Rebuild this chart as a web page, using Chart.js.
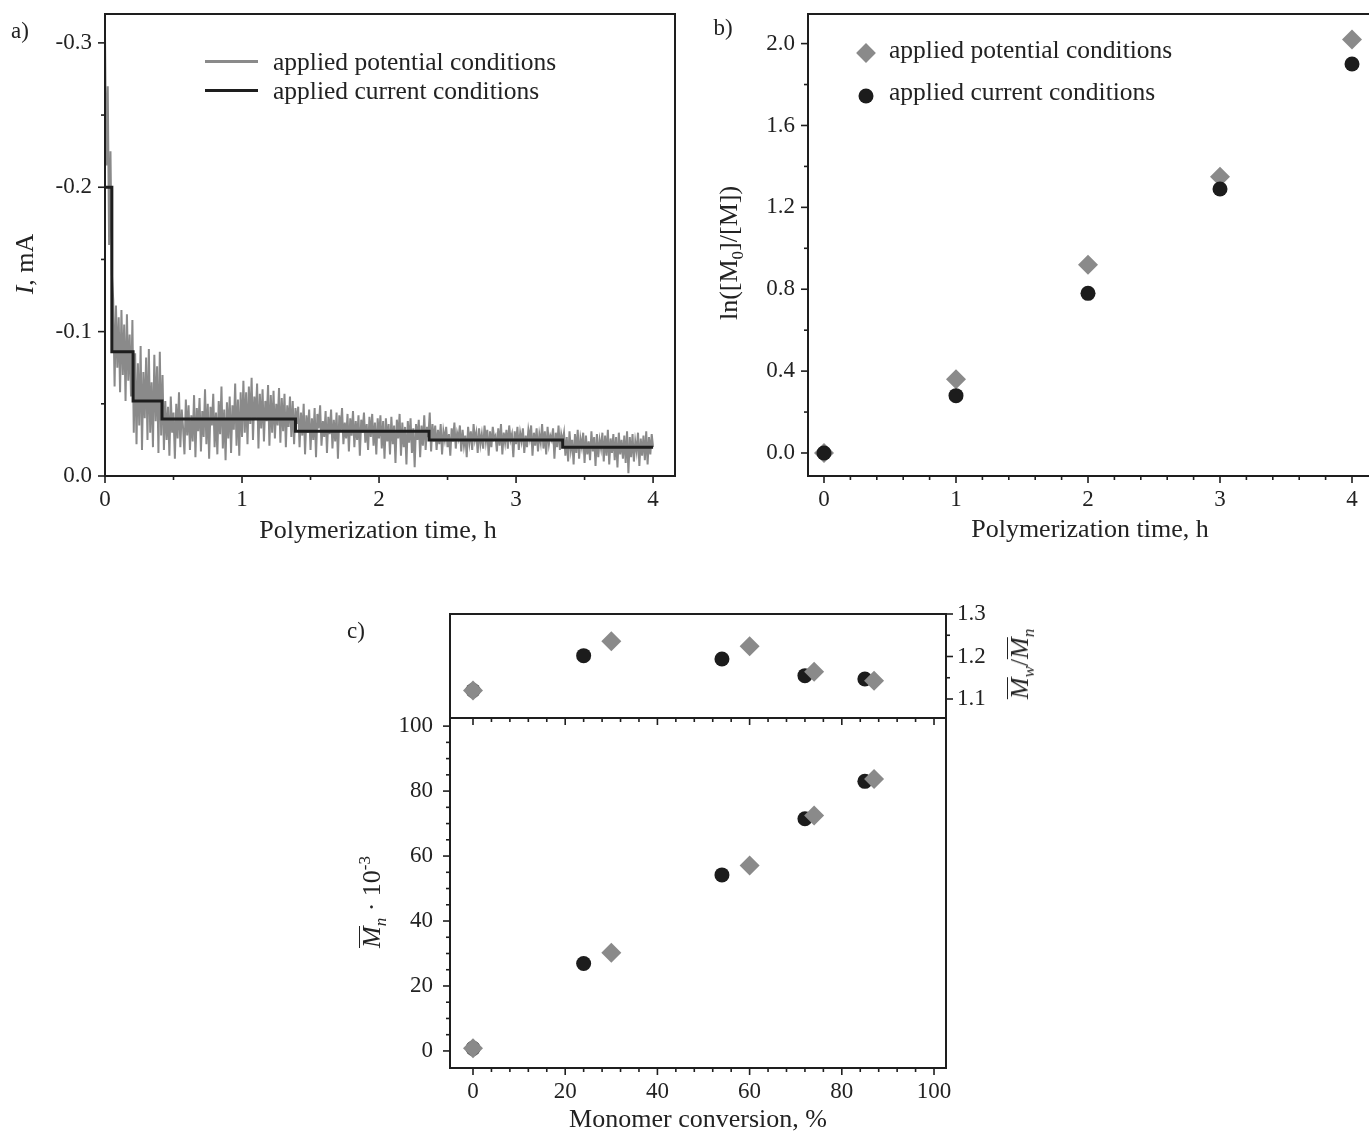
<!DOCTYPE html>
<html>
<head>
<meta charset="utf-8">
<script src="https://cdn.jsdelivr.net/npm/chart.js@4.4.1/dist/chart.umd.min.js"></script>
<style>
  html, body { margin: 0; padding: 0; background: #fff; overflow: hidden; }
  #wrap { position: relative; width: 1369px; height: 1133px; overflow: hidden;
          font-family: "Liberation Serif", serif; color: #222; }
  canvas { position: absolute; }
  .txt { position: absolute; white-space: nowrap; line-height: 1; transform: translateY(-50%); font-size: 25.5px; }
  .xtitle { position: absolute; white-space: nowrap; line-height: 1; font-size: 26px; transform: translate(-50%, -50%); }
  .panel { position: absolute; font-size: 23px; line-height: 1; transform: translate(-50%, -50%); }
  .ytitle { position: absolute; white-space: nowrap; line-height: 1; font-size: 26px;
            transform: translate(-50%, -50%) rotate(-90deg); }
  .ytitle sub, .ytitle sup { font-size: 17px; line-height: 0; }
  .ov { display: inline-block; border-top: 1.6px solid #222; line-height: 0.95; }
  .lineKey { position: absolute; height: 3px; }
  .diamond { position: absolute; width: 14px; height: 14px; background: #8a8a8a; transform: translate(-50%, -50%) rotate(45deg); }
  .dot { position: absolute; width: 15px; height: 15px; border-radius: 50%; background: #1c1c1c; transform: translate(-50%, -50%); }
</style>
</head>
<body>
<div id="wrap">
  <canvas id="chartA" width="700" height="560" style="left:0;top:0"></canvas>
  <canvas id="chartB" width="690" height="560" style="left:700px;top:0"></canvas>
  <canvas id="chartC2" width="720" height="440" style="left:340px;top:700px"></canvas>
  <canvas id="chartC1" width="720" height="132" style="left:340px;top:590px"></canvas>

  <div class="panel" style="left:20px;top:30px">a)</div>
  <div class="panel" style="left:723px;top:27px">b)</div>
  <div class="panel" style="left:356px;top:630px">c)</div>

  <!-- axis titles with italics / sub- and superscripts -->
  <div class="xtitle" style="left:378px;top:530px">Polymerization time, h</div>
  <div class="ytitle" style="left:25px;top:264px"><i>I</i>, mA</div>
  <div class="ytitle" style="left:729px;top:253px">ln([M<sub>0</sub>]/[M])</div>
  <div class="ytitle" style="left:372px;top:902px"><span class="ov"><i>M</i></span><sub><i>n</i></sub> &middot; 10<sup>-3</sup></div>
  <div class="ytitle" style="left:1020px;top:664px"><span class="ov"><i>M</i></span><sub><i>w</i></sub>/<span class="ov"><i>M</i></span><sub><i>n</i></sub></div>

  <!-- legend a -->
  <div class="lineKey" style="left:205px;top:60px;width:53px;background:#8a8a8a"></div>
  <div class="lineKey" style="left:205px;top:89px;width:53px;background:#1e1e1e"></div>
  <div class="txt" style="left:273px;top:62px">applied potential conditions</div>
  <div class="txt" style="left:273px;top:91px">applied current conditions</div>

  <!-- legend b -->
  <div class="diamond" style="left:866px;top:53px"></div>
  <div class="dot" style="left:866px;top:96px"></div>
  <div class="txt" style="left:889px;top:50px">applied potential conditions</div>
  <div class="txt" style="left:889px;top:92px">applied current conditions</div>
</div>

<script>
// ---- a) current vs time ----
// applied current conditions: level (mA) held from each time (h)
const currentStepTime  = [0, 0.05, 0.205, 0.416, 1.39, 2.365, 3.34, 4.0];
const currentStepLevel = [-0.2, -0.086, -0.052, -0.0395, -0.031, -0.025, -0.020, -0.020];

// applied potential conditions: recorded current in uA, one reading every 0.01 h
const potentialSampleStep = 0.01;
const potentialCurrentUA = [
  -305,-215,-270,-160,-225,-140,
  -122,-62,-118,-75,-110,-58,-115,-70,-105,-52,-112,-66,-98,-55,-108,
  -30,-85,-22,-78,-35,-90,-18,-72,-40,-82,-25,-88,-30,-65,-20,-84,-38,-76,-16,-86,-28,-70,
  -18,-52,-25,-48,-14,-55,-30,-44,-12,-50,-26,-58,-20,-46,-33,-15,-53,-28,-49,-18,
  -42,-24,-56,-13,-47,-31,-54,-17,-45,-27,-60,-22,-50,-12,-48,-35,-57,-20,-44,-15,
  -52,-29,-62,-19,-46,-11,-51,-26,-55,-16,-49,-32,-64,-21,-53,-14,-58,-27,
  -66,-30,-58,-22,-62,-36,-68,-25,-55,-40,-64,-19,-57,-33,-60,-24,-52,-38,-63,-21,
  -56,-30,-59,-26,-50,-35,-61,-23,-54,-31,-57,-20,-49,-34,-55,-27,-52,-22,-47,-36,
  -48,-20,-44,-28,-50,-15,-42,-30,-46,-18,-40,-25,-47,-13,-43,-33,-49,-21,-38,-27,
  -45,-16,-41,-29,-46,-19,-39,-24,-44,-12,-42,-31,-47,-22,-37,-26,-43,-17,-40,-28,
  -45,-20,-38,-25,-42,-14,-39,-30,-44,-23,-36,-18,-41,-27,-43,-21,-37,-15,-40,-26,
  -42,-19,-38,-12,-40,-24,-36,-15,-41,-22,-35,-9,-39,-26,-43,-14,-37,-20,-34,-8,
  -38,-23,-40,-16,-33,-6,-36,-25,-39,-13,-35,-21,-42,-18,-34,-27,-44,-17,-36,-24,
  -35,-18,-32,-22,-36,-15,-31,-25,-34,-20,-29,-14,-33,-24,-37,-19,-30,-26,-35,-17,
  -32,-21,-28,-13,-34,-23,-31,-18,-36,-25,-30,-16,-33,-22,-29,-19,-35,-24,-32,-14,
  -31,-20,-34,-26,-28,-17,-33,-21,-36,-15,-30,-23,-32,-19,-35,-25,-29,-13,-31,-22,
  -34,-18,-30,-24,-33,-16,-28,-20,-32,-26,-35,-14,-30,-21,-33,-17,-29,-23,-36,-19,
  -31,-15,-34,-22,-28,-25,-33,-12,-30,-20,-35,-18,-29,-24,
  -30,-14,-27,-10,-31,-18,-25,-8,-29,-16,-32,-12,-26,-20,-30,-9,-28,-15,-24,-11,
  -31,-17,-27,-7,-29,-13,-25,-19,-30,-10,-28,-14,-32,-8,-26,-16,-29,-11,-27,-6,
  -30,-15,-25,-12,-28,-9,-31,-2,-27,-13,-29,-10,-24,-17,-30,-7,-26,-14,-28,-11,
  -31,-8,-27,-15,-29,-20
];

const aXMajor = [0, 1, 2, 3, 4];
const aXMinor = [0.5, 1.5, 2.5, 3.5];
const aYMajor = [-0.3, -0.2, -0.1, 0];
const aYMinor = [-0.25, -0.15, -0.05];

// ---- b) ln([M0]/[M]) vs time ----
const bTime = [0, 1, 2, 3, 4];
const bPotential = [0.0, 0.36, 0.92, 1.35, 2.02];
const bCurrent = [0.0, 0.28, 0.78, 1.29, 1.90];

const bXMajor = [0, 1, 2, 3, 4];
const bXMinor = [0.2, 0.4, 0.6, 0.8, 1.2, 1.4, 1.6, 1.8, 2.2, 2.4, 2.6, 2.8, 3.2, 3.4, 3.6, 3.8];
const bYMajor = [0, 0.4, 0.8, 1.2, 1.6, 2.0];
const bYMinor = [0.2, 0.6, 1.0, 1.4, 1.8];

// ---- c) Mn and Mw/Mn vs conversion ----
const cConvPotential = [0, 30, 60, 74, 87];
const cMnPotential   = [0.8, 30.2, 57.1, 72.5, 83.7];
const cPdiPotential  = [1.12, 1.236, 1.224, 1.164, 1.143];
const cConvCurrent = [0, 24, 54, 72, 85];
const cMnCurrent   = [0.8, 26.9, 54.2, 71.5, 83.0];
const cPdiCurrent  = [1.12, 1.202, 1.194, 1.155, 1.147];

const cXMajor = [0, 20, 40, 60, 80, 100];
const cXMinor = [4, 8, 12, 16, 24, 28, 32, 36, 44, 48, 52, 56, 64, 68, 72, 76, 84, 88, 92, 96];
const cYMajor = [0, 20, 40, 60, 80, 100];
const cYMinor = [5, 10, 15, 25, 30, 35, 45, 50, 55, 65, 70, 75, 85, 90, 95];
const cPdiMajor = [1.1, 1.2, 1.3];
const cPdiMinor = [1.15, 1.25];

const INK = '#1e1e1e';
const GREY = '#8a8a8a';

Chart.defaults.font.family = '"Liberation Serif", serif';
Chart.defaults.color = '#222';

function fixTicks(values) {
  return s => { s.ticks = values.map(v => ({ value: v })); };
}

// pin the axis thickness and stop tick labels from pushing the plot area around
function pinSize(prop, size) {
  return s => {
    s[prop] = size;
    s.paddingTop = 0; s.paddingBottom = 0;
    s.paddingLeft = 0; s.paddingRight = 0;
  };
}

function zip(xs, ys) {
  return xs.map((x, i) => ({ x: x, y: ys[i] }));
}

// box frame plus major/minor tick marks (len > 0 points outward)
function frame(marks) {
  return {
    id: 'frame',
    afterDraw(chart) {
      const { ctx, chartArea: a, scales } = chart;
      ctx.save();
      ctx.strokeStyle = INK;
      ctx.lineWidth = 2;
      ctx.strokeRect(a.left, a.top, a.right - a.left, a.bottom - a.top);
      ctx.lineWidth = 1.6;
      marks.forEach(m => {
        const scale = scales[m.scale];
        m.values.forEach(v => {
          const p = scale.getPixelForValue(v);
          ctx.beginPath();
          if (m.side === 'bottom') { ctx.moveTo(p, a.bottom); ctx.lineTo(p, a.bottom + m.len); }
          else if (m.side === 'top') { ctx.moveTo(p, a.top); ctx.lineTo(p, a.top - m.len); }
          else if (m.side === 'left') { ctx.moveTo(a.left, p); ctx.lineTo(a.left - m.len, p); }
          else { ctx.moveTo(a.right, p); ctx.lineTo(a.right + m.len, p); }
          ctx.stroke();
        });
      });
      ctx.restore();
    }
  };
}

const hiddenGrid = { display: true, drawOnChartArea: false, drawTicks: false };
const tickFont = { size: 23 };
const titleFont = { size: 26 };

function axis(extra) {
  return Object.assign({
    type: 'linear',
    grid: hiddenGrid,
    border: { display: false },
  }, extra);
}

const baseOptions = {
  responsive: false,
  animation: false,
  events: [],
  plugins: { legend: { display: false }, tooltip: { enabled: false } }
};

function layoutPad(left, top, right, bottom) {
  return { autoPadding: false, padding: { left, top, right, bottom } };
}

// a)
new Chart(document.getElementById('chartA'), {
  type: 'line',
  data: {
    datasets: [
      { label: 'applied current conditions', data: zip(currentStepTime, currentStepLevel),
        stepped: 'before', borderColor: INK, borderWidth: 3, pointRadius: 0, fill: false },
      { label: 'applied potential conditions',
        data: potentialCurrentUA.map((v, i) => ({ x: i * potentialSampleStep, y: v / 1000 })),
        borderColor: GREY, borderWidth: 2, pointRadius: 0, tension: 0, fill: false }
    ]
  },
  options: Object.assign({}, baseOptions, {
    layout: layoutPad(0, 14, 25, 14),
    scales: {
      x: axis({
        min: 0, max: 4.16,
        afterBuildTicks: fixTicks(aXMajor),
        afterFit: pinSize('height', 70),
        ticks: { padding: 10, autoSkip: false, maxRotation: 0, font: tickFont, callback: v => String(v) }
      }),
      y: axis({
        min: -0.32, max: 0, reverse: true,
        afterBuildTicks: fixTicks(aYMajor),
        afterFit: pinSize('width', 105),
        ticks: { padding: 13, autoSkip: false, font: tickFont, callback: v => v.toFixed(1) }
      })
    }
  }),
  plugins: [frame([
    { scale: 'x', side: 'bottom', values: aXMajor, len: 7 },
    { scale: 'x', side: 'bottom', values: aXMinor, len: 4 },
    { scale: 'y', side: 'left', values: aYMajor, len: 7 },
    { scale: 'y', side: 'left', values: aYMinor, len: 4 }
  ])]
});

// b)
new Chart(document.getElementById('chartB'), {
  type: 'scatter',
  data: {
    datasets: [
      { label: 'applied current conditions', data: zip(bTime, bCurrent),
        pointStyle: 'circle', pointRadius: 7.5, backgroundColor: '#1c1c1c', borderWidth: 0 },
      { label: 'applied potential conditions', data: zip(bTime, bPotential),
        pointStyle: 'rectRot', pointRadius: 10, backgroundColor: GREY, borderWidth: 0 }
    ]
  },
  options: Object.assign({}, baseOptions, {
    layout: layoutPad(0, 14, 18, 14),
    scales: {
      x: axis({
        min: -0.1212, max: 4.1515,
        afterBuildTicks: fixTicks(bXMajor),
        afterFit: pinSize('height', 70),
        ticks: { padding: 10, autoSkip: false, maxRotation: 0, font: tickFont, callback: v => String(v) },
        title: { display: true, text: 'Polymerization time, h', font: titleFont, padding: 0 }
      }),
      y: axis({
        min: -0.1124, max: 2.1446,
        afterBuildTicks: fixTicks(bYMajor),
        afterFit: pinSize('width', 108),
        ticks: { padding: 13, autoSkip: false, font: tickFont, callback: v => v.toFixed(1) }
      })
    }
  }),
  plugins: [frame([
    { scale: 'x', side: 'bottom', values: bXMajor, len: 7 },
    { scale: 'x', side: 'bottom', values: bXMinor, len: 4 },
    { scale: 'y', side: 'left', values: bYMajor, len: 7 },
    { scale: 'y', side: 'left', values: bYMinor, len: 4 }
  ])]
});

// c) lower: Mn
new Chart(document.getElementById('chartC2'), {
  type: 'scatter',
  data: {
    datasets: [
      { label: 'applied potential conditions', data: zip(cConvPotential, cMnPotential),
        pointStyle: 'rectRot', pointRadius: 10, backgroundColor: GREY, borderWidth: 0 },
      { label: 'applied current conditions', data: zip(cConvCurrent, cMnCurrent),
        pointStyle: 'circle', pointRadius: 7.5, backgroundColor: '#1c1c1c', borderWidth: 0 }
    ]
  },
  options: Object.assign({}, baseOptions, {
    layout: layoutPad(0, 18, 114, 4),
    scales: {
      x: axis({
        min: -4.99, max: 102.6,
        afterBuildTicks: fixTicks(cXMajor),
        afterFit: pinSize('height', 68),
        ticks: { padding: 10, autoSkip: false, maxRotation: 0, font: tickFont, callback: v => String(v) },
        title: { display: true, text: 'Monomer conversion, %', font: titleFont, padding: 0 }
      }),
      y: axis({
        min: -5.25, max: 102.5,
        afterBuildTicks: fixTicks(cYMajor),
        afterFit: pinSize('width', 110),
        ticks: { padding: 17, autoSkip: false, font: tickFont, callback: v => String(v) }
      })
    }
  }),
  plugins: [frame([
    { scale: 'x', side: 'bottom', values: cXMajor, len: 7 },
    { scale: 'x', side: 'bottom', values: cXMinor, len: 4 },
    { scale: 'x', side: 'top', values: cXMajor, len: -7 },
    { scale: 'x', side: 'top', values: cXMinor, len: -4 },
    { scale: 'y', side: 'left', values: cYMajor, len: 7 },
    { scale: 'y', side: 'left', values: cYMinor, len: 4 }
  ])]
});

// c) upper: Mw/Mn
new Chart(document.getElementById('chartC1'), {
  type: 'scatter',
  data: {
    datasets: [
      { label: 'applied potential conditions', data: zip(cConvPotential, cPdiPotential),
        pointStyle: 'rectRot', pointRadius: 10, backgroundColor: GREY, borderWidth: 0 },
      { label: 'applied current conditions', data: zip(cConvCurrent, cPdiCurrent),
        pointStyle: 'circle', pointRadius: 7.5, backgroundColor: '#1c1c1c', borderWidth: 0 }
    ]
  },
  options: Object.assign({}, baseOptions, {
    layout: layoutPad(110, 24, 54, 4),
    scales: {
      x: axis({ min: -4.99, max: 102.6, display: false }),
      y: axis({
        position: 'right',
        min: 1.0553, max: 1.3,
        afterBuildTicks: fixTicks(cPdiMajor),
        afterFit: pinSize('width', 60),
        ticks: { padding: 11, autoSkip: false, font: tickFont, callback: v => v.toFixed(1) }
      })
    }
  }),
  plugins: [frame([
    { scale: 'y', side: 'right', values: cPdiMajor, len: 7 },
    { scale: 'y', side: 'right', values: cPdiMinor, len: 4 }
  ])]
});
</script>
</body>
</html>
